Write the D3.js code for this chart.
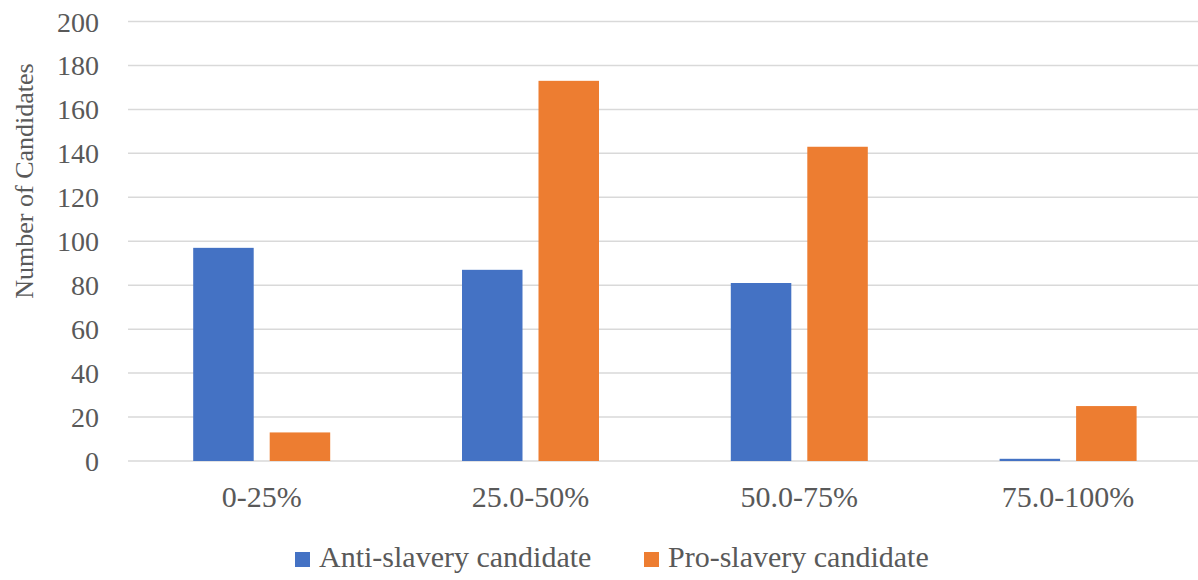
<!DOCTYPE html>
<html>
<head>
<meta charset="utf-8">
<script src="https://cdn.jsdelivr.net/npm/d3@7"></script>
<style>
  html, body { margin: 0; padding: 0; background: #fff; }
  svg { display: block; }
  svg text { font-family: 'Liberation Serif', 'DejaVu Serif', serif; fill: #595959; }
</style>
</head>
<body>
<svg id="chart" width="1198" height="580"></svg>
<script>
// Share of vote brackets and candidate counts per bracket
const categories = ["0-25%", "25.0-50%", "50.0-75%", "75.0-100%"];
const seriesNames = ["Anti-slavery candidate", "Pro-slavery candidate"];
const antiSlavery = [97, 87, 81, 1];
const proSlavery = [13, 173, 143, 25];
const yTicks = [0, 20, 40, 60, 80, 100, 120, 140, 160, 180, 200];
const colors = ["#4472C4", "#ED7D31"];

const FONT = "'Liberation Serif', 'DejaVu Serif', serif";
const rows = categories.map((c, i) => ({ category: c, values: [antiSlavery[i], proSlavery[i]] }));

const svg = d3.select("#chart");
const plot = { left: 127.3, right: 1202.5, top: 21.5, bottom: 461 };

const x0 = d3.scaleBand()
  .domain(categories)
  .range([plot.left, plot.right])
  .paddingInner(0)
  .paddingOuter(0);

// two bars per group with a small gap between them
const barW = 60.5, barGap = 16;
const x1 = d3.scaleOrdinal()
  .domain([0, 1])
  .range([-(barGap / 2) - barW, barGap / 2]);

const y = d3.scaleLinear().domain([0, 200]).range([plot.bottom, plot.top]);

// horizontal gridlines
svg.append("g")
  .selectAll("line")
  .data(yTicks)
  .join("line")
  .attr("x1", 128)
  .attr("x2", 1198)
  .attr("y1", d => y(d))
  .attr("y2", d => y(d))
  .attr("stroke", "#d9d9d9")
  .attr("stroke-width", 1.5);

// y tick labels
const yAxis = d3.axisLeft(y).tickValues(yTicks).tickSize(0).tickPadding(0);
const yg = svg.append("g").attr("transform", "translate(99,0)").call(yAxis)
  .attr("font-family", FONT).attr("font-size", 28);
yg.select(".domain").remove();
yg.selectAll("text")
  .attr("fill", "#595959")
  .attr("dy", "0.34em");

// bars
const groups = svg.append("g")
  .selectAll("g")
  .data(rows)
  .join("g")
  .attr("transform", d => `translate(${x0(d.category) + x0.bandwidth() / 2},0)`);

groups.selectAll("rect")
  .data(d => d.values.map((v, k) => ({ v, k })))
  .join("rect")
  .attr("x", d => x1(d.k))
  .attr("width", barW)
  .attr("y", d => y(d.v))
  .attr("height", d => y(0) - y(d.v))
  .attr("fill", d => colors[d.k]);

// x category labels
const xAxis = d3.axisBottom(x0).tickSize(0).tickPadding(0);
const xg = svg.append("g").attr("transform", "translate(0,507)").call(xAxis)
  .attr("font-family", FONT).attr("font-size", 30);
xg.select(".domain").remove();
xg.selectAll("text")
  .attr("fill", "#595959")
  .attr("dy", "0");

// y axis title
svg.append("text")
  .attr("transform", "translate(33,181) rotate(-90)")
  .attr("text-anchor", "middle")
  .attr("font-family", FONT)
  .attr("font-size", 26)
  .text("Number of Candidates");

// legend
const legendItems = [
  { name: seriesNames[0], color: colors[0], x: 295 },
  { name: seriesNames[1], color: colors[1], x: 644 }
];
const lg = svg.append("g")
  .selectAll("g")
  .data(legendItems)
  .join("g")
  .attr("transform", d => `translate(${d.x},0)`);
lg.append("rect")
  .attr("x", 0).attr("y", 552)
  .attr("width", 15).attr("height", 15)
  .attr("fill", d => d.color);
lg.append("text")
  .attr("x", 24).attr("y", 567)
  .attr("font-family", FONT)
  .attr("font-size", 30)
  .text(d => d.name);
</script>
</body>
</html>
